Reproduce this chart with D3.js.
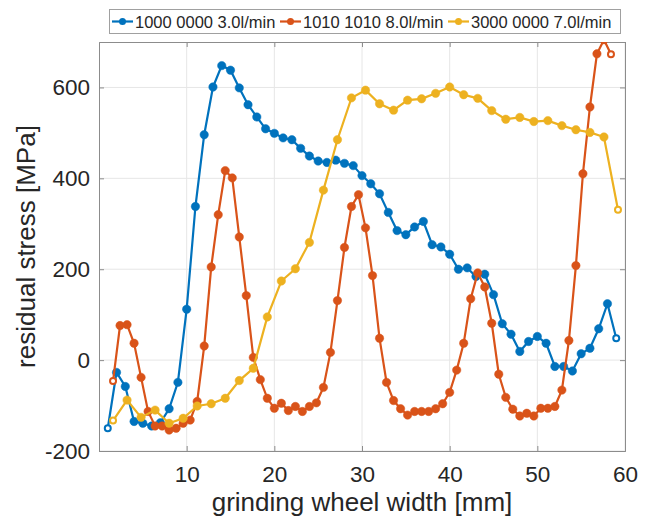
<html>
<head>
<meta charset="utf-8">
<script src="https://cdn.jsdelivr.net/npm/d3@7"></script>
<style>
body { margin: 0; background: #fff; }
svg text { font-family: "Liberation Sans", Arial, sans-serif; fill: #262626; }
</style>
</head>
<body>
<script>
// series 1: 1000 0000 3.0l/min
var blueX = [1,2,3,4,5,6,7,8,9,10,11,12,13,14,15,16,17,18,19,20,21,22,23,24,25,26,27,28,29,30,
  31,32,33,34,35,36,37,38,39,40,41,42,43,44,45,46,47,48,49,50,51,52,53,54,55,56,57,58,59];
var blueY = [-150,-27,-58,-135,-139,-145,-138,-107,-49,112,338,496,601,648,638,599,562,535,509,499,
  489,485,466,449,438,435,440,433,428,406,388,366,325,285,276,293,305,254,249,233,
  200,203,184,189,144,80,57,19,41,52,37,-14,-14,-24,14,26,69,124,48];

// series 2: 1010 1010 8.0l/min
var redX = [1.6,2.4,3.2,4.0,4.8,5.6,6.4,7.2,8.0,8.8,9.6,10.4,11.2,12.0,12.8,13.6,14.4,15.2,16.0,16.8,
  17.6,18.4,19.2,20.0,20.8,21.6,22.4,23.2,24.0,24.8,25.6,26.4,27.2,28.0,28.8,29.6,30.4,31.2,32.0,32.8,
  33.6,34.4,35.2,36.0,36.8,37.6,38.4,39.2,40.0,40.8,41.6,42.4,43.2,44.0,44.8,45.6,46.4,47.2,48.0,48.8,
  49.6,50.4,51.2,52.0,52.8,53.6,54.4,55.2,56.0,56.8,57.6,58.4];
var redY = [-46,76,78,37,-38,-113,-145,-145,-154,-150,-139,-132,-91,31,205,320,417,401,271,142,
  6,-43,-84,-106,-95,-111,-102,-113,-102,-94,-60,17,131,248,338,364,291,186,48,-49,
  -89,-107,-121,-113,-113,-113,-107,-96,-71,-22,37,135,192,161,81,-31,-82,-108,-123,-117,
  -123,-106,-106,-102,-66,43,208,410,557,674,705,673];

// series 3: 3000 0000 7.0l/min
var yellowX = [1.6,3.2,4.8,6.4,8.0,9.6,11.2,12.8,14.4,16.0,17.6,19.2,20.8,22.4,24.0,25.6,27.2,28.8,30.4,32.0,
  33.6,35.2,36.8,38.4,40.0,41.6,43.2,44.8,46.4,48.0,49.6,51.2,52.8,54.4,56.0,57.6,59.2];
var yellowY = [-133,-88,-126,-110,-139,-128,-101,-96,-84,-45,-18,95,174,201,259,374,485,577,594,564,
  550,572,575,587,601,584,576,549,530,534,525,527,516,507,501,491,331];

var seriesNames = ["1000 0000 3.0l/min", "1010 1010 8.0l/min", "3000 0000 7.0l/min"];
var seriesColors = ["#0072BD", "#D95319", "#EDB120"];
var xTicks = [10, 20, 30, 40, 50, 60];
var yTicks = [-200, 0, 200, 400, 600];

var w = 650, h = 520;
var margin = {left: 99, right: 25, top: 42, bottom: 69};
var axisColor = "#8c8c8c";

var series = [
  {name: seriesNames[0], color: seriesColors[0], pts: blueX.map(function(x, i) { return [x, blueY[i]]; })},
  {name: seriesNames[1], color: seriesColors[1], pts: redX.map(function(x, i) { return [x, redY[i]]; })},
  {name: seriesNames[2], color: seriesColors[2], pts: yellowX.map(function(x, i) { return [x, yellowY[i]]; })}
];

var svg = d3.select("body").append("svg").attr("width", w).attr("height", h);

var x = d3.scaleLinear().domain([0, 60]).range([margin.left, w - margin.right]);
var y = d3.scaleLinear().domain([-200, 700]).range([h - margin.bottom, margin.top]);

/* grid */
svg.append("g").selectAll("line").data(xTicks).enter().append("line")
  .attr("x1", function(d) { return x(d); }).attr("x2", function(d) { return x(d); })
  .attr("y1", y(-200)).attr("y2", y(700))
  .attr("stroke", "#e6e6e6").attr("stroke-width", 1);
svg.append("g").selectAll("line").data(yTicks).enter().append("line")
  .attr("y1", function(d) { return y(d); }).attr("y2", function(d) { return y(d); })
  .attr("x1", x(0)).attr("x2", x(60))
  .attr("stroke", "#e6e6e6").attr("stroke-width", 1);

/* axes (box on, ticks inside) */
svg.append("g").attr("transform", "translate(0," + y(-200) + ")")
  .call(d3.axisBottom(x).tickValues(xTicks).tickSize(-5).tickPadding(15).tickFormat(String));
svg.append("g").attr("transform", "translate(" + x(0) + ",0)")
  .call(d3.axisLeft(y).tickValues(yTicks).tickSize(-5).tickPadding(9).tickFormat(String));
svg.append("g").attr("transform", "translate(0," + y(700) + ")")
  .call(d3.axisTop(x).tickValues(xTicks).tickSize(-5).tickFormat(""));
svg.append("g").attr("transform", "translate(" + x(60) + ",0)")
  .call(d3.axisRight(y).tickValues(yTicks).tickSize(-5).tickFormat(""));

svg.selectAll(".domain, .tick line").attr("stroke", axisColor);
svg.selectAll(".tick text").style("font-size", "22.5px").attr("fill", "#262626");

/* data */
svg.append("clipPath").attr("id", "clip").append("rect")
  .attr("x", x(0)).attr("y", y(700)).attr("width", x(60) - x(0)).attr("height", y(-200) - y(700));

var line = d3.line().x(function(d) { return x(d[0]); }).y(function(d) { return y(d[1]); });
var plot = svg.append("g").attr("clip-path", "url(#clip)");

series.forEach(function(s) {
  var g = plot.append("g");
  g.append("path").datum(s.pts).attr("d", line)
    .attr("fill", "none").attr("stroke", s.color).attr("stroke-width", 2.2);
  var n = s.pts.length;
  g.selectAll("circle").data(s.pts).enter().append("circle")
    .attr("cx", function(d) { return x(d[0]); })
    .attr("cy", function(d) { return y(d[1]); })
    .attr("r", function(d, i) { return (i === 0 || i === n - 1) ? 3 : 4.2; })
    .attr("fill", function(d, i) { return (i === 0 || i === n - 1) ? "#fff" : s.color; })
    .attr("stroke", s.color).attr("stroke-width", function(d, i) { return (i === 0 || i === n - 1) ? 2 : 0.5; });
});

/* labels */
svg.append("text").attr("x", (x(0) + x(60)) / 2).attr("y", 511)
  .attr("text-anchor", "middle").style("font-size", "26px").text("grinding wheel width [mm]");
svg.append("text").attr("transform", "translate(35," + ((y(-200) + y(700)) / 2) + ") rotate(-90)")
  .attr("text-anchor", "middle").style("font-size", "26px").text("residual stress [MPa]");

/* legend */
var lg = svg.append("g");
lg.append("rect").attr("x", 109.5).attr("y", 9.5).attr("width", 511).attr("height", 24)
  .attr("fill", "#fff").attr("stroke", "#a0a0a0").attr("stroke-width", 1);
var legendX = [112, 280, 448];
series.forEach(function(s, i) {
  var lx = legendX[i], ly = 21.5;
  lg.append("line").attr("x1", lx).attr("x2", lx + 21).attr("y1", ly).attr("y2", ly)
    .attr("stroke", s.color).attr("stroke-width", 2.2);
  lg.append("circle").attr("cx", lx + 10.5).attr("cy", ly).attr("r", 3.5).attr("fill", s.color);
  lg.append("text").attr("x", lx + 23).attr("y", ly + 6).style("font-size", "16.5px").text(s.name);
});
</script>
</body>
</html>
